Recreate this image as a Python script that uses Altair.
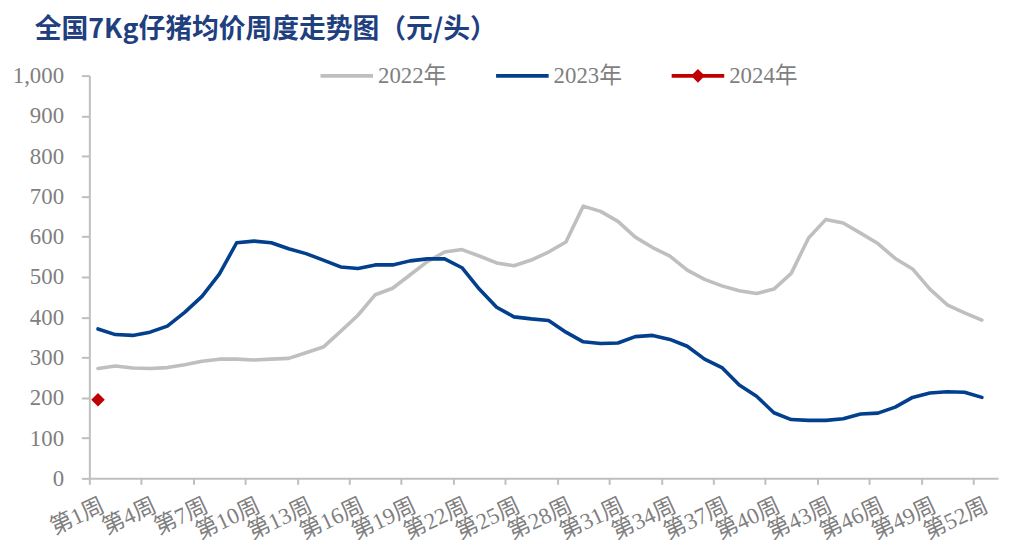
import altair as alt
import pandas as pd

# ---- data ----
weeks = list(range(1, 53))
y2022 = [273, 279, 274, 273, 275, 282, 291, 296, 296, 294,
         296, 298, 312, 326, 365, 405, 456, 472, 505, 538,
         562, 568, 552, 535, 528, 542, 562, 587, 676, 663,
         638, 599, 573, 552, 517, 494, 478, 466, 459, 470,
         509, 597, 643, 634, 609, 583, 546, 520, 470, 431,
         411, 393]
y2023 = [371, 357, 355, 363, 378, 412, 452, 507, 585, 589,
         585, 570, 558, 542, 525, 521, 530, 530, 540, 545,
         545, 523, 470, 425, 401, 396, 392, 363, 339, 335,
         336, 352, 355, 345, 328, 296, 275, 232, 204, 163,
         146, 144, 144, 148, 160, 162, 177, 201, 212, 215,
         214, 201]
weeks_2024 = [1]
y2024 = [195]

series = ["2022年", "2023年", "2024年"]
colors = ["#BFBFBF", "#023F8C", "#C00000"]
tick_weeks = list(range(1, 53, 3))
y_ticks = list(range(0, 1001, 100))
title_text = "全国7Kg仔猪均价周度走势图（元/头）"

rows = []
for w, v in zip(weeks, y2022):
    rows.append({"week": w, "price": v, "year": series[0]})
for w, v in zip(weeks, y2023):
    rows.append({"week": w, "price": v, "year": series[1]})
df_lines = pd.DataFrame(rows)
df_2024 = pd.DataFrame({"week": weeks_2024, "price": y2024, "year": [series[2]] * len(y2024)})

# ---- layout ----
PX_PER_WEEK = 17.47
W = 916
H = 406
x_max = 0.5 + W / PX_PER_WEEK
half = PX_PER_WEEK / 2

label_font = "'Liberation Serif', 'Times New Roman', 'Noto Sans CJK SC', serif"
grey_text = "#7F7F7F"
axis_grey = "#BFBFBF"

x_scale = alt.Scale(domain=[0.5, x_max], nice=False, zero=False)
y_scale = alt.Scale(domain=[0, 1000], nice=False, zero=True)

x_axis = alt.Axis(
    values=tick_weeks,
    labelExpr="'第' + datum.value + '周'",
    labelAngle=-25, labelAlign="right", labelBaseline="top",
    labelFont=label_font, labelFontSize=23, labelColor=grey_text,
    labelPadding=10, labelOverlap=False, labelBound=False, labelFlush=False,
    tickOffset=-half, labelOffset=half,
    tickSize=6, tickWidth=2, tickColor=axis_grey,
    domainColor=axis_grey, domainWidth=2,
    grid=False, title=None,
)
y_axis = alt.Axis(
    values=y_ticks, format=",d",
    labelFont=label_font, labelFontSize=23, labelColor=grey_text,
    labelPadding=18, tickSize=8, tickWidth=2, tickColor=axis_grey,
    domainColor=axis_grey, domainWidth=2,
    grid=False, title=None,
)

x_enc = alt.X("week:Q", scale=x_scale, axis=x_axis)
y_enc = alt.Y("price:Q", scale=y_scale, axis=y_axis)

lines = alt.Chart(df_lines).mark_line(strokeWidth=3.6, strokeJoin="round", strokeCap="round").encode(
    x=x_enc,
    y=y_enc,
    stroke=alt.Stroke("year:N", scale=alt.Scale(domain=series[:2], range=colors[:2]), legend=None),
)

diamond = alt.Chart(df_2024).mark_point(shape="diamond", filled=True, size=185, opacity=1,
                                        color=colors[2]).encode(
    x="week:Q",
    y="price:Q",
)

line_path = "M-1,-0.075H1V0.075H-1Z"
line_diamond_path = "M-1,-0.075H1V0.075H-1Z M-0.26,0L0,-0.26L0.26,0L0,0.26Z"

legend = alt.Legend(
    orient="none", legendX=233, legendY=-26.5, direction="horizontal", columns=3,
    title=None, padding=0, labelFont=label_font, labelFontSize=23, labelColor=grey_text,
    symbolSize=2809, symbolOpacity=1, symbolStrokeWidth=0, labelOffset=5, columnPadding=50,
)

legend_carrier = alt.Chart(df_2024).mark_point(filled=True, opacity=0).encode(
    x="week:Q",
    y="price:Q",
    color=alt.Color("year:N", scale=alt.Scale(domain=series, range=colors), legend=legend),
    shape=alt.Shape("year:N", scale=alt.Scale(domain=series, range=[line_path, line_path, line_diamond_path]),
                    legend=legend),
)

chart = alt.layer(lines, diamond, legend_carrier).properties(
    width=W, height=H,
    padding={"left": 82, "top": 66, "right": 4, "bottom": 63},
    autosize=alt.AutoSizeParams(type="none"),
    title=alt.Title(title_text, anchor="start", frame="group", dx=-55, dy=-5, offset=0,
                    font="Noto Sans CJK SC", fontSize=27, fontWeight="bold", color="#1F3F7F"),
).configure_view(stroke=None)

chart.save("out.html", embed_options={"renderer": "svg", "actions": False})
